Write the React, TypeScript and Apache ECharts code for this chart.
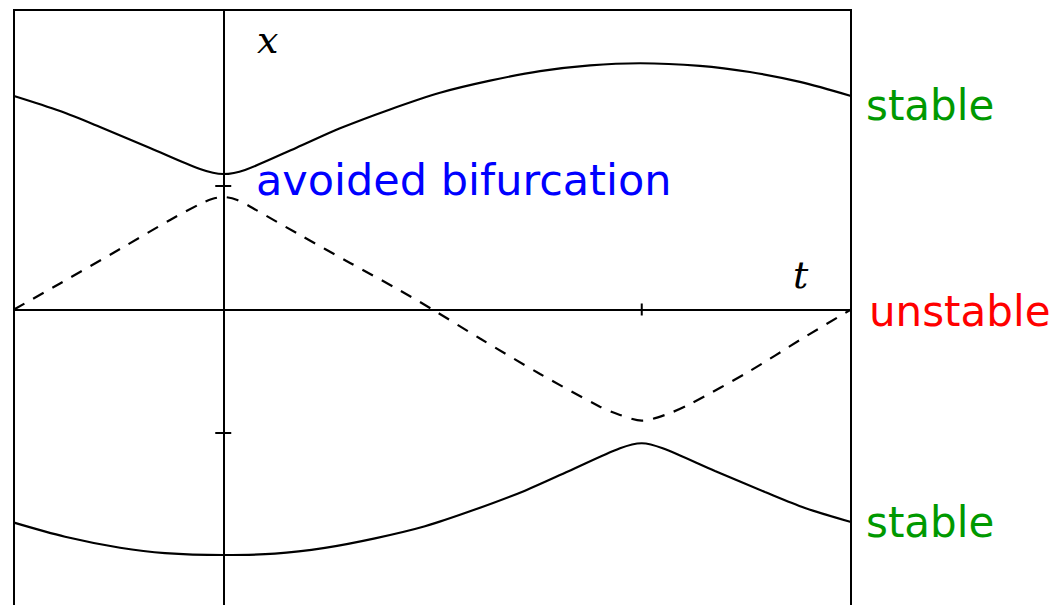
import React, { useEffect, useRef } from "react";
import * as echarts from "echarts";

// Sampled branches (t, x) of the slowly forced system
const upperStable: [number, number][] = [
  [-1, 1.729], [-0.78, 1.607], [-0.589, 1.478], [-0.35, 1.308], [-0.111, 1.138],
  [0, 1.097], [0.104, 1.13], [0.35, 1.31], [0.558, 1.467], [0.797, 1.62],
  [1.036, 1.755], [1.275, 1.853], [1.514, 1.93], [1.753, 1.977], [1.992, 1.994],
  [2.278, 1.973], [2.517, 1.923], [2.756, 1.843], [3, 1.729],
];

const unstableBranch: [number, number][] = [
  [-1, 0], [-0.78, 0.211], [-0.493, 0.49], [-0.254, 0.725], [-0.111, 0.854],
  [-0.054, 0.895], [0, 0.911], [0.067, 0.887], [0.148, 0.814], [0.367, 0.603],
  [0.606, 0.377], [0.845, 0.154], [1.0, 0], [1.227, -0.235], [1.514, -0.522],
  [1.8, -0.787], [1.896, -0.854], [2.0, -0.9], [2.111, -0.854], [2.231, -0.765],
  [2.517, -0.498], [2.756, -0.247], [3, 0],
];

const lowerStable: [number, number][] = [
  [-1, -1.726], [-0.756, -1.84], [-0.493, -1.929], [-0.278, -1.973], [0, -1.988],
  [0.247, -1.977], [0.486, -1.93], [0.725, -1.853], [0.964, -1.755], [1.203, -1.62],
  [1.442, -1.467], [1.65, -1.31], [1.896, -1.124], [2.0, -1.083], [2.1, -1.124],
  [2.35, -1.308], [2.589, -1.478], [2.78, -1.607], [3, -1.721],
];

// Tick positions on the two axes
const tTicks = [2];
const xTicks = [-1, 1];

const T_MIN = -1;
const T_MAX = 3;
const X_MIN = -2.5;
const X_MAX = 2.425;
const PX_PER_X = 123.5;

const SANS = "'DejaVu Sans', sans-serif";
const SERIF = "'DejaVu Serif', serif";

export default function App() {
  const ref = useRef<HTMLDivElement>(null);

  useEffect(() => {
    if (!ref.current) return;
    const chart = echarts.init(ref.current, undefined, { renderer: "svg" });

    const tickData = [
      ...tTicks.map((v) => [v, 0, 0]),
      ...xTicks.map((v) => [0, v, 1]),
    ];

    const curve = (data: [number, number][], dashed: boolean) => ({
      type: "line",
      data,
      showSymbol: false,
      smooth: 0.3,
      silent: true,
      lineStyle: {
        color: "#000",
        width: 2.2,
        type: dashed ? [12, 10] : "solid",
      },
      z: 3,
    });

    const label = (
      text: string,
      x: number,
      y: number,
      color: string,
      size = 42,
      family = SANS,
      style = "normal"
    ) => ({
      type: "text",
      x,
      y,
      style: {
        text,
        fill: color,
        fontSize: size,
        fontFamily: family,
        fontStyle: style,
        align: "left",
        verticalAlign: "middle",
      },
      z: 10,
    });

    const axisLine = { show: true, onZero: true, lineStyle: { color: "#000", width: 2 } };

    chart.setOption({
      animation: false,
      grid: {
        left: 14,
        top: 10,
        width: 837,
        height: (X_MAX - X_MIN) * PX_PER_X,
        show: true,
        borderColor: "#000",
        borderWidth: 2,
        backgroundColor: "transparent",
      },
      xAxis: {
        type: "value",
        min: T_MIN,
        max: T_MAX,
        axisLine,
        axisTick: { show: false },
        axisLabel: { show: false },
        splitLine: { show: false },
      },
      yAxis: {
        type: "value",
        min: X_MIN,
        max: X_MAX,
        axisLine,
        axisTick: { show: false },
        axisLabel: { show: false },
        splitLine: { show: false },
      },
      series: [
        curve(upperStable, false),
        curve(unstableBranch, true),
        curve(lowerStable, false),
        {
          type: "custom",
          data: tickData,
          encode: { x: 0, y: 1 },
          silent: true,
          z: 4,
          renderItem: (_params: any, api: any) => {
            const p = api.coord([api.value(0), api.value(1)]);
            const vertical = api.value(2) === 0;
            const h = vertical ? 6 : 8;
            return {
              type: "line",
              shape: vertical
                ? { x1: p[0], y1: p[1] - h, x2: p[0], y2: p[1] + h }
                : { x1: p[0] - h, y1: p[1], x2: p[0] + h, y2: p[1] },
              style: { stroke: "#000", lineWidth: 2 },
            };
          },
        },
      ],
      graphic: [
        label("x", 257, 39.5, "#000", 38, SERIF, "italic"),
        label("t", 793, 274.5, "#000", 38, SERIF, "italic"),
        label("avoided bifurcation", 256, 180, "#0000ff", 43),
        label("stable", 866, 105, "#009900"),
        label("unstable", 869, 311, "#ff0000"),
        label("stable", 866, 522, "#009900"),
      ],
    });

    return () => chart.dispose();
  }, []);

  return (
    <div
      ref={ref}
      style={{ position: "fixed", left: 0, top: 0, width: 1057, height: 660, background: "#fff" }}
    />
  );
}
